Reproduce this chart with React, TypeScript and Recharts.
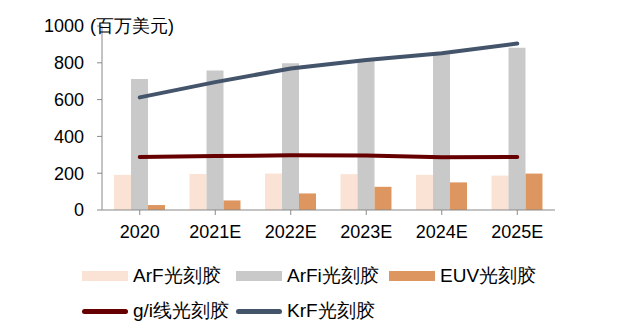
import React from "react";
import { ComposedChart, Bar, Line, XAxis, YAxis } from "recharts";

const years = ["2020", "2021E", "2022E", "2023E", "2024E", "2025E"];
const arf = [191, 196, 198, 195, 191, 187];
const arfi = [712, 758, 798, 815, 847, 882];
const euv = [27, 52, 90, 126, 150, 198];
const gi = [288, 293, 297, 296, 287, 288];
const krf = [612, 695, 769, 815, 852, 905];
const yTicks = [0, 200, 400, 600, 800, 1000];

const FONT = '"Liberation Sans", Arial, sans-serif';
const AXIS = "#898989";

const colors = {
  arf: "#FAE3D5",
  arfi: "#C9C9C9",
  euv: "#DE9660",
  gi: "#660000",
  krf: "#44546A",
};

const data = years.map((year, i) => ({
  year,
  arf: arf[i],
  arfi: arfi[i],
  euv: euv[i],
  gi: gi[i],
  krf: krf[i],
}));

// 1000 tick carries the unit next to it
function YTick(props: any) {
  const { y, payload } = props;
  const x = 84;
  return (
    <g>
      <text x={x} y={y} dy="0.35em" textAnchor="end" fontSize={18} fontFamily={FONT} fill="#000">
        {payload.value}
      </text>
      {payload.value === 1000 && (
        <text x={x + 6} y={y} dy="0.35em" textAnchor="start" fontSize={18} fontFamily={FONT} fill="#000">
          (百万美元)
        </text>
      )}
    </g>
  );
}

const legendRows = [
  [
    { label: "ArF光刻胶", color: colors.arf, kind: "bar", left: 82 },
    { label: "ArFi光刻胶", color: colors.arfi, kind: "bar", left: 236 },
    { label: "EUV光刻胶", color: colors.euv, kind: "bar", left: 389 },
  ],
  [
    { label: "g/i线光刻胶", color: colors.gi, kind: "line", left: 82 },
    { label: "KrF光刻胶", color: colors.krf, kind: "line", left: 236 },
  ],
];

function LegendBlock() {
  return (
    <>
      {legendRows.map((row, r) =>
        row.map((item) => (
          <div
            key={item.label}
            style={{
              position: "absolute",
              left: item.left,
              top: r === 0 ? 265 : 300,
              height: 22,
              display: "flex",
              alignItems: "center",
              fontFamily: FONT,
              fontSize: 19,
              color: "#000",
              whiteSpace: "nowrap",
            }}
          >
            <span
              style={{
                display: "inline-block",
                width: 46,
                height: item.kind === "bar" ? 10 : 5,
                borderRadius: item.kind === "bar" ? 0 : 3,
                background: item.color,
                marginRight: 5,
              }}
            />
            {item.label}
          </div>
        ))
      )}
    </>
  );
}

export default function App() {
  return (
    <div style={{ position: "absolute", top: 0, left: 0, width: 617, height: 324, background: "#fff" }}>
      <ComposedChart
        width={617}
        height={324}
        data={data}
        margin={{ top: 26, right: 62, bottom: 84, left: 0 }}
        barGap={0}
        barSize={17}
      >
        <XAxis
          dataKey="year"
          axisLine={{ stroke: AXIS }}
          tickLine={{ stroke: AXIS }}
          tickSize={5}
          tickMargin={10}
          height={30}
          interval={0}
          tick={{ fill: "#000", fontSize: 18, fontFamily: FONT }}
        />
        <YAxis
          domain={[0, 1000]}
          ticks={yTicks}
          width={102}
          axisLine={{ stroke: AXIS }}
          tickLine={{ stroke: AXIS }}
          tickSize={5}
          tickMargin={0}
          tick={<YTick />}
        />
        <Bar dataKey="arf" fill={colors.arf} isAnimationActive={false} />
        <Bar dataKey="arfi" fill={colors.arfi} isAnimationActive={false} />
        <Bar dataKey="euv" fill={colors.euv} isAnimationActive={false} />
        <Line
          dataKey="gi"
          stroke={colors.gi}
          strokeWidth={4}
          dot={false}
          type="linear"
          strokeLinecap="round"
          isAnimationActive={false}
        />
        <Line
          dataKey="krf"
          stroke={colors.krf}
          strokeWidth={4}
          dot={false}
          type="linear"
          strokeLinecap="round"
          isAnimationActive={false}
        />
      </ComposedChart>
      <LegendBlock />
    </div>
  );
}
